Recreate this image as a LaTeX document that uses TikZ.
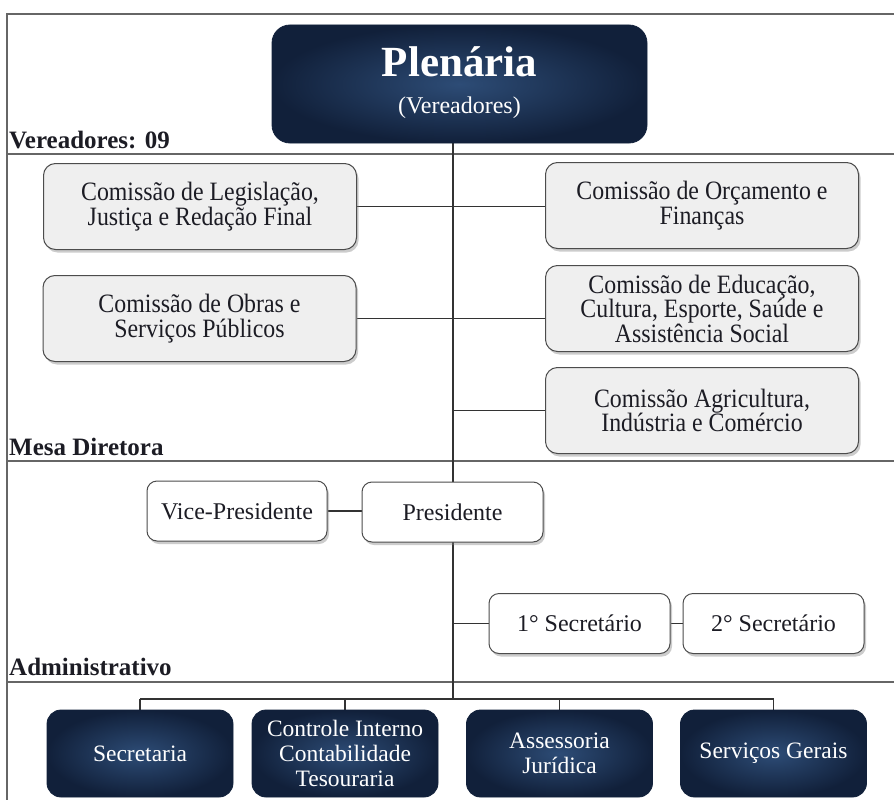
\documentclass[tikz,border=0pt]{standalone}
\usepackage{fontspec}
\setmainfont{Liberation Serif}
\newfontfamily\condfont{Liberation Serif}[FakeStretch=0.9]
\usetikzlibrary{shadows,backgrounds}
\definecolor{navyout}{HTML}{11203A}
\definecolor{navyin}{HTML}{2D4C76}
\definecolor{boxgray}{HTML}{EFEFEF}
\definecolor{inkc}{HTML}{1C1C24}
\begin{document}
\begin{tikzpicture}[x=1pt,y=-1pt,
  comm/.style={draw=black!70, line width=1pt, fill=boxgray, rounded corners=12pt,
    minimum width=313pt, minimum height=86pt, align=center, inner sep=2pt,
    font=\condfont\fontsize{26.5}{24.5}\selectfont, text=inkc,
    drop shadow={shadow xshift=2pt, shadow yshift=-3pt, opacity=0.4}},
  mesa/.style={draw=black!70, line width=1pt, fill=white, rounded corners=10pt,
    minimum width=181pt, minimum height=60pt, inner sep=2pt,
    font=\fontsize{24}{25}\selectfont, text=inkc,
    drop shadow={shadow xshift=2pt, shadow yshift=-3pt, opacity=0.4}},
  dark/.style={draw=navyout, line width=0.8pt, rounded corners=14pt,
    inner color=navyin, outer color=navyout, text=white, align=center,
    minimum width=186pt, minimum height=87pt, inner sep=2pt,
    font=\fontsize{23.5}{25}\selectfont},
  wire/.style={draw=black!80, line width=1.6pt},
  frameline/.style={draw=black!60, line width=1.8pt},
  sect/.style={font=\bfseries\fontsize{25}{25}\selectfont, anchor=base west, inner sep=0pt, text=inkc}]
\useasboundingbox (0,0) rectangle (894,800);

% top node
\node[dark, minimum width=375pt, minimum height=118pt, rounded corners=18pt] (plen) at (459.5,84)
  {\raisebox{7pt}{\begin{tabular}{@{}c@{}}{\fontsize{43}{43}\selectfont\bfseries Plenária}\\[12pt]
   {\fontsize{24}{24}\selectfont (Vereadores)}\end{tabular}}};

% comissões
\node[comm] (leg) at (200,206.5) {Comissão de Legislação,\\Justiça e Redação Final};
\node[comm] (orc) at (702,205.5) {Comissão de Orçamento e\\Finanças};
\node[comm] (obr) at (199.5,318.5) {Comissão de Obras e\\Serviços Públicos};
\node[comm] (edu) at (702,308.5) {Comissão de Educação,\\Cultura, Esporte, Saúde e\\Assistência Social};
\node[comm] (agr) at (702,410.5) {Comissão Agricultura,\\Indústria e Comércio};

% mesa diretora
\node[mesa, minimum width=180pt] (vice) at (237,511) {Vice-Presidente};
\node[mesa] (pres) at (452.5,512) {Presidente};
\node[mesa] (sec1) at (579.5,623.5) {1° Secretário};
\node[mesa] (sec2) at (773.5,623.5) {2° Secretário};

% administrativo
\node[dark] (secr) at (140,753.5) {Secretaria};
\node[dark] (ctrl) at (345,753.5) {Controle Interno\\Contabilidade\\Tesouraria};
\node[dark] (asse) at (559.5,753.5) {Assessoria\\Jurídica};
\node[dark] (serv) at (773.5,753.5) {Serviços Gerais};

% section labels
\node[sect] (lver) at (9,148) {Vereadores: 09};
\node[sect] (lmesa) at (9,455) {Mesa Diretora};
\node[sect] (ladm) at (9,675) {Administrativo};

\coordinate (bus) at (453,699);

\begin{pgfonlayer}{background}
  \fill[white] (0,0) rectangle (894,800);
  % frame
  \draw[frameline] (7,800) -- (7,14) -- (894,14);
  \draw[frameline] (7,154) -- (894,154);
  \draw[frameline] (7,461) -- (894,461);
  \draw[frameline] (7,682) -- (894,682);
  % connectors
  \draw[wire] (plen.south -| bus) -- (bus);
  \draw[wire] (leg.east) -- (leg.east -| orc.west);
  \draw[wire] (obr.east) -- (obr.east -| edu.west);
  \draw[wire] (agr.west) -- (agr.west -| bus);
  \draw[wire] (vice.east) -- (vice.east -| pres.west);
  \draw[wire] (sec1.west) -- (sec1.west -| bus);
  \draw[wire] (sec1.east) -- (sec1.east -| sec2.west);
  \draw[wire] (bus -| secr.north) -- (bus -| serv.north);
  \draw[wire] (secr.north) -- (secr.north |- bus);
  \draw[wire] (ctrl.north) -- (ctrl.north |- bus);
  \draw[wire] (asse.north) -- (asse.north |- bus);
  \draw[wire] (serv.north) -- (serv.north |- bus);
\end{pgfonlayer}
\end{tikzpicture}
\end{document}
